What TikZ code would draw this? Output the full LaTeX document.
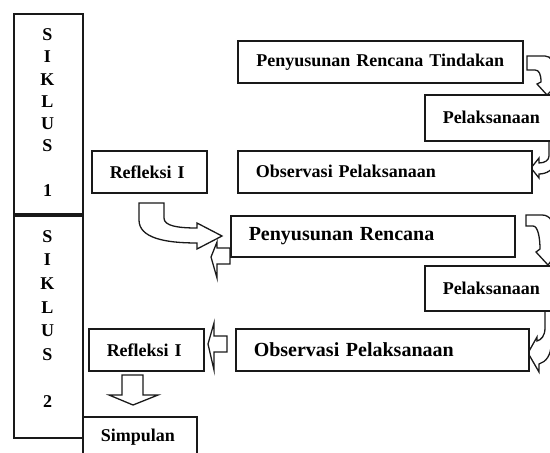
\documentclass[tikz,border=0pt]{standalone}
\usepackage{fontspec}
\setmainfont{Liberation Serif}
\begin{document}
\begin{tikzpicture}[x=1pt,y=-1pt]
\tikzset{
  tbox/.style={draw=black!90, line width=1.5pt, fill=white, rectangle, anchor=north west,
    inner xsep=18pt, inner ysep=0pt, align=left, font=\fontsize{18}{20}\selectfont\bfseries},
  bigtext/.style={font=\fontsize{20}{22}\selectfont\bfseries},
  colbox/.style={draw=black!90, line width=1.5pt, fill=white, rectangle, anchor=north west, inner sep=0pt},
  letters/.style={align=center, inner sep=0pt, font=\fontsize{18}{#1}\selectfont\bfseries},
  barrow/.style={draw=black!90, line width=1.3pt, fill=white, line join=miter}
}
\useasboundingbox (0,0) rectangle (550,453);
\clip (0,0) rectangle (550,453);

% block arrows
\draw[barrow] (139,203) -- (164,203) -- (164,218) .. controls (164,226) and (178,228) .. (197,228)
  -- (197,223) -- (222,236) -- (197,249) -- (197,243) .. controls (165,243) and (139,238) .. (139,220) -- cycle;
\draw[barrow] (230,248) -- (217,248) -- (217,242) -- (211,257) -- (217,278) -- (217,264) -- (230,264) -- cycle;
\draw[barrow] (227,336) -- (214,336) -- (214,323) -- (208,344) -- (214,370) -- (214,352) -- (227,352) -- cycle;
\draw[barrow] (122,375) -- (143,375) -- (143,395) -- (158,395) -- (133,405) -- (109,395) -- (122,395) -- cycle;
\draw[barrow] (527,56) -- (545,56) .. controls (551,56) and (554,62) .. (554,70) -- (554,82) -- (558,84)
  -- (547,95) -- (537,84) -- (541,82) .. controls (541,74) and (539,70) .. (535,70) -- (527,70) -- cycle;
\draw[barrow] (549,138) -- (549,156) .. controls (549,160) and (545,163) .. (539,163) -- (539,158)
  -- (531,168) -- (539,178) -- (539,174) .. controls (546,174) and (555,170) .. (555,160) -- (555,138) -- cycle;
\draw[barrow] (526,215) -- (542,215) .. controls (550,215) and (554,222) .. (554,232) -- (554,250) -- (558,252)
  -- (548,265) -- (536,252) -- (540,249) .. controls (540,238) and (538,226) .. (533,226) -- (526,226) -- cycle;
\draw[barrow] (545,308) -- (545,328) .. controls (545,336) and (541,340) .. (537,341) -- (537,337)
  -- (528,353) -- (539,372) -- (539,364) .. controls (546,362) and (551,355) .. (551,345) -- (551,308) -- cycle;

% cycle columns
\node[colbox, minimum width=69pt, minimum height=200pt] (s1) at (13,13) {};
\node[colbox, minimum width=69pt, minimum height=222pt] (s2) at (13,215) {};
\node[letters=22.2] (s1t) at (47.5,112.5) {S\\I\\K\\L\\U\\S\\[22.2pt]1};
\node[letters=23.7] (s2t) at (47.5,319) {S\\I\\K\\L\\U\\S\\[23.7pt]2};

% boxes
\node[tbox, align=center, inner xsep=8pt, text width=269pt, minimum height=42pt] (prt) at (237,40) {Penyusunan Rencana Tindakan};
\node[tbox, text width=124pt, minimum height=46pt] (pel1) at (424,94) {Pelaksanaan};
\node[tbox, text width=258pt, minimum height=42pt] (obs1) at (237,150) {Observasi Pelaksanaan};
\node[tbox, text width=79pt, minimum height=42pt] (ref1) at (91,150) {Refleksi I};
\node[tbox, bigtext, text width=248pt, minimum height=41pt] (pr2) at (230,215) {Penyusunan Rencana};
\node[tbox, text width=124pt, minimum height=45pt] (pel2) at (424,265) {Pelaksanaan};
\node[tbox, bigtext, text width=257pt, minimum height=42pt] (obs2) at (235,328) {Observasi Pelaksanaan};
\node[tbox, text width=79pt, minimum height=42pt] (ref2) at (88,328) {Refleksi I};
\node[tbox, text width=78pt, minimum height=40pt] (simp) at (82,416) {Simpulan};
\end{tikzpicture}
\end{document}
